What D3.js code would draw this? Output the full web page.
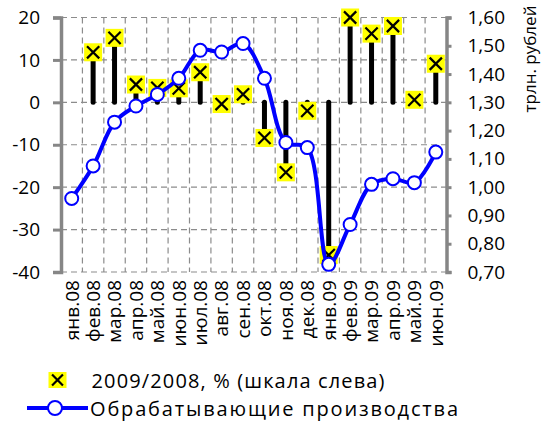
<!DOCTYPE html>
<html>
<head>
<meta charset="utf-8">
<script src="https://cdn.jsdelivr.net/npm/d3@7"></script>
<style>
  html, body { margin: 0; padding: 0; background: #fff; }
  svg { display: block; font-family: "Open Sans", sans-serif; }
</style>
</head>
<body>
<svg id="chart" width="541" height="421"></svg>
<script>
// Monthly categories
const months = ["янв.08", "фев.08", "мар.08", "апр.08", "май.08", "июн.08", "июл.08", "авг.08", "сен.08",
  "окт.08", "ноя.08", "дек.08", "янв.09", "фев.09", "мар.09", "апр.09", "май.09", "июн.09"];
// Year-on-year change, % (left scale); no value for the first month
const changePct = [null, 11.8, 15.2, 4.2, 3.4, 3.3, 7.1, -0.4, 1.9, -8.4, -16.5, -2.0, -36.0, 20.0, 16.2, 18.0, 0.6, 9.1];
// Manufacturing output, trillion roubles (right scale)
const manufacturing = [0.960, 1.075, 1.230, 1.287, 1.328, 1.385, 1.484, 1.478, 1.508, 1.385, 1.158, 1.140, 0.727, 0.868, 1.010, 1.030, 1.016, 1.124];
// Axis ticks
const leftTicks = [-40, -30, -20, -10, 0, 10, 20];
const rightTicks = [0.70, 0.80, 0.90, 1.00, 1.10, 1.20, 1.30, 1.40, 1.50, 1.60];
// Labels
const legendLabels = ["2009/2008, % (шкала слева)", "Обрабатывающие производства"];
const rightTitle = "трлн. рублей";

const svg = d3.select("#chart");
const plot = { left: 61, right: 446.5, top: 17.5, bottom: 272 };

const x = d3.scaleBand().domain(months).range([plot.left, plot.right]).padding(0);
const yL = d3.scaleLinear().domain([-40, 20]).range([plot.bottom, plot.top]);
const yR = d3.scaleLinear().domain([0.70, 1.60]).range([plot.bottom, plot.top]);
const cx = m => x(m) + x.bandwidth() / 2;

const gridColor = "#8c8c8c";
const axisColor = "#868686";
const ruFmt = d3.formatLocale({ decimal: ",", thousands: " ", grouping: [3], currency: ["", ""] }).format(".2f");

// Dashed grid
const grid = svg.append("g").attr("stroke", gridColor).attr("stroke-width", 1.2).attr("stroke-dasharray", "6,4");
grid.selectAll("line.h").data(leftTicks).join("line").attr("class", "h")
  .attr("x1", plot.left).attr("x2", plot.right)
  .attr("y1", d => yL(d)).attr("y2", d => yL(d));
grid.selectAll("line.v").data(months.slice(1)).join("line").attr("class", "v")
  .attr("x1", d => x(d)).attr("x2", d => x(d))
  .attr("y1", plot.top).attr("y2", plot.bottom);

// Bars from zero to the change value
const pts = months.map((m, i) => ({ m, v: changePct[i] })).filter(d => d.v !== null);
svg.append("g").selectAll("line").data(pts).join("line")
  .attr("x1", d => cx(d.m)).attr("x2", d => cx(d.m))
  .attr("y1", yL(0)).attr("y2", d => yL(d.v))
  .attr("stroke", "#000").attr("stroke-width", 5).attr("stroke-linecap", "round");

// Yellow square markers with a cross
function crossMarker(g, w, h) {
  const c = Math.min(w, h) * 0.34;
  g.append("rect").attr("x", -w / 2).attr("y", -h / 2).attr("width", w).attr("height", h).attr("fill", "#ffff00");
  g.append("path").attr("d", `M${-c},${-c}L${c},${c}M${c},${-c}L${-c},${c}`)
    .attr("stroke", "#000").attr("stroke-width", 2.2).attr("fill", "none");
}
svg.append("g").selectAll("g").data(pts).join("g")
  .attr("transform", d => `translate(${cx(d.m)},${yL(d.v)})`)
  .each(function () { crossMarker(d3.select(this), 18, 18); });

// Manufacturing line
const line = d3.line().x((d, i) => cx(months[i])).y(d => yR(d)).curve(d3.curveCatmullRom.alpha(0.5));
svg.append("path").datum(manufacturing).attr("d", line)
  .attr("fill", "none").attr("stroke", "#0000ff").attr("stroke-width", 4);
svg.append("g").selectAll("circle").data(manufacturing).join("circle")
  .attr("cx", (d, i) => cx(months[i])).attr("cy", d => yR(d)).attr("r", 6.5)
  .attr("fill", "#fff").attr("stroke", "#0000ff").attr("stroke-width", 2);

// Left axis
const axL = svg.append("g").attr("transform", `translate(${plot.left},0)`)
  .call(d3.axisLeft(yL).tickValues(leftTicks).tickSize(8).tickPadding(13).tickFormat(d => String(d)));
// Right axis
const axR = svg.append("g").attr("transform", `translate(${plot.right},0)`)
  .call(d3.axisRight(yR).tickValues(rightTicks).tickSize(5).tickPadding(16).tickFormat(ruFmt));
[axL, axR].forEach(a => {
  a.select(".domain").attr("stroke", axisColor).attr("stroke-width", 3.5);
  a.selectAll(".tick line").attr("stroke", axisColor).attr("stroke-width", 3);
  a.selectAll(".tick text").attr("fill", "#000").style("font-size", "19px").style("font-family", "'Open Sans', sans-serif");
});

// Category labels (rotated)
const axX = svg.append("g").attr("transform", `translate(0,${plot.bottom})`)
  .call(d3.axisBottom(x).tickSize(0).tickPadding(0));
axX.select(".domain").remove();
axX.selectAll(".tick text")
  .attr("transform", "translate(0,8) rotate(-90)")
  .attr("text-anchor", "end").attr("x", 0).attr("y", 0).attr("dy", "0.36em")
  .attr("fill", "#000").style("font-size", "19px").style("font-family", "'Open Sans', sans-serif");

// Right-hand title
svg.append("text").attr("transform", `translate(536,59) rotate(-90)`)
  .attr("text-anchor", "middle").style("font-size", "17px").attr("fill", "#000").text(rightTitle);

// Legend
const lg = svg.append("g").style("font-size", "20px");
const l1 = lg.append("g").attr("transform", "translate(57.5,380)");
crossMarker(l1, 18, 16);
lg.append("text").attr("x", 91.5).attr("y", 388).attr("fill", "#000")
  .attr("textLength", 293).attr("lengthAdjust", "spacing").text(legendLabels[0]);
lg.append("line").attr("x1", 27).attr("x2", 88).attr("y1", 408).attr("y2", 408)
  .attr("stroke", "#0000ff").attr("stroke-width", 4);
lg.append("circle").attr("cx", 55).attr("cy", 408).attr("r", 7)
  .attr("fill", "#fff").attr("stroke", "#0000ff").attr("stroke-width", 2);
lg.append("text").attr("x", 90).attr("y", 415.5).attr("fill", "#000")
  .attr("textLength", 368).attr("lengthAdjust", "spacing").text(legendLabels[1]);
</script>
</body>
</html>
